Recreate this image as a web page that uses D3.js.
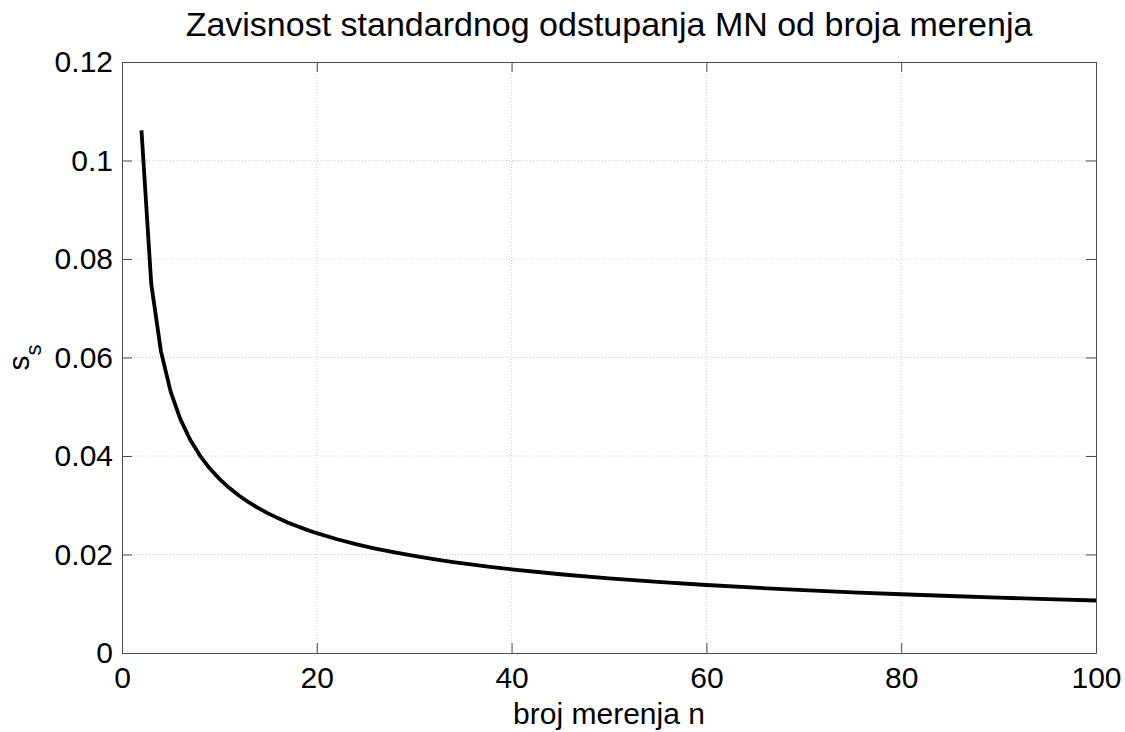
<!DOCTYPE html>
<html>
<head>
<meta charset="utf-8">
<script src="https://cdn.jsdelivr.net/npm/d3@7"></script>
<style>
  body { margin: 0; background: #fff; }
  text { font-family: "Liberation Sans", Arial, sans-serif; }
</style>
</head>
<body>
<div id="chart"></div>
<script>
// Broj merenja n
const nValues = [2, 3, 4, 5, 6, 7, 8, 9, 10, 11, 12, 13, 14, 15, 16, 17, 18, 19, 20,
  22, 24, 26, 28, 30, 32, 34, 36, 38, 40, 45, 50, 55, 60, 65, 70, 75, 80, 85, 90, 95, 100];
// Standardno odstupanje s_s
const ssValues = [0.1061, 0.0750, 0.06124, 0.05303, 0.04743, 0.04330, 0.04009, 0.03750, 0.03536,
  0.03354, 0.03198, 0.03062, 0.02942, 0.02835, 0.02739, 0.02652, 0.02572, 0.02500, 0.02433,
  0.02315, 0.02212, 0.02121, 0.02041, 0.01970, 0.01905, 0.01846, 0.01793, 0.01744, 0.01698,
  0.01599, 0.01515, 0.01443, 0.01381, 0.01326, 0.01277, 0.01233, 0.01193, 0.01157, 0.01124,
  0.01094, 0.01066];
const xTicks = [0, 20, 40, 60, 80, 100];
const yTicks = [0, 0.02, 0.04, 0.06, 0.08, 0.1, 0.12];

const data = nValues.map((n, i) => ({n: n, s: ssValues[i]}));

const margin = {top: 62, right: 29, bottom: 79, left: 122},
    width = 1125 - margin.left - margin.right,
    height = 732 - margin.top - margin.bottom;

const svg = d3.select("#chart")
    .append("svg")
    .attr("width", 1125)
    .attr("height", 732)
    .append("g")
    .attr("transform", "translate(" + margin.left + "," + margin.top + ")");

const xScale = d3.scaleLinear().domain([0, 100]).range([0, width]);
const yScale = d3.scaleLinear().domain([0, 0.12]).range([height, 0]);

// Grid lines
svg.selectAll(".gx")
    .data(xTicks.slice(1, -1))
    .enter().append("line")
    .attr("x1", d => xScale(d)).attr("x2", d => xScale(d))
    .attr("y1", 0).attr("y2", height)
    .attr("stroke", "#c8c8c8").attr("stroke-width", 1)
    .attr("stroke-dasharray", "1,2");

svg.selectAll(".gy")
    .data(yTicks.slice(1, -1))
    .enter().append("line")
    .attr("x1", 0).attr("x2", width)
    .attr("y1", d => yScale(d)).attr("y2", d => yScale(d))
    .attr("stroke", "#c8c8c8").attr("stroke-width", 1)
    .attr("stroke-dasharray", "1,2");

// Axes (ticks inside, on all four sides)
const fmt = d => d === 0 ? "0" : d3.format("")(+d.toFixed(2));
function styleAxis(g) {
    g.select(".domain").attr("stroke", "#4d4d4d");
    g.selectAll(".tick line").attr("stroke", "#4d4d4d");
    g.selectAll(".tick text")
        .attr("fill", "#000")
        .style("font-size", "30px")
        .style("font-family", "'Liberation Sans', Arial, sans-serif");
}

svg.append("g")
    .attr("transform", "translate(0," + height + ")")
    .call(d3.axisBottom(xScale).tickValues(xTicks).tickSize(-10).tickSizeOuter(0).tickPadding(14))
    .call(styleAxis);

svg.append("g")
    .call(d3.axisTop(xScale).tickValues(xTicks).tickSize(-10).tickSizeOuter(0).tickFormat(""))
    .call(styleAxis);

svg.append("g")
    .call(d3.axisLeft(yScale).tickValues(yTicks).tickFormat(fmt).tickSize(-10).tickSizeOuter(0).tickPadding(9))
    .call(styleAxis);

svg.append("g")
    .attr("transform", "translate(" + width + ",0)")
    .call(d3.axisRight(yScale).tickValues(yTicks).tickSize(-10).tickSizeOuter(0).tickFormat(""))
    .call(styleAxis);

// Curve
const line = d3.line().x(d => xScale(d.n)).y(d => yScale(d.s));
svg.append("path")
    .datum(data)
    .attr("fill", "none")
    .attr("stroke", "#000")
    .attr("stroke-width", 3.8)
    .attr("stroke-linejoin", "round")
    .attr("d", line);

// Title
svg.append("text")
    .attr("x", width / 2)
    .attr("y", -26)
    .attr("text-anchor", "middle")
    .style("font-size", "34px")
    .text("Zavisnost standardnog odstupanja MN od broja merenja");

// x-axis label
svg.append("text")
    .attr("x", width / 2)
    .attr("y", height + 71)
    .attr("text-anchor", "middle")
    .style("font-size", "30px")
    .text("broj merenja n");

// y-axis label
const yl = svg.append("text")
    .attr("transform", "translate(-93," + (height / 2) + ") rotate(-90)")
    .attr("text-anchor", "middle")
    .style("font-size", "30px");
yl.append("tspan").text("s");
yl.append("tspan").attr("dy", 12).style("font-size", "22px").text("s");
</script>
</body>
</html>
